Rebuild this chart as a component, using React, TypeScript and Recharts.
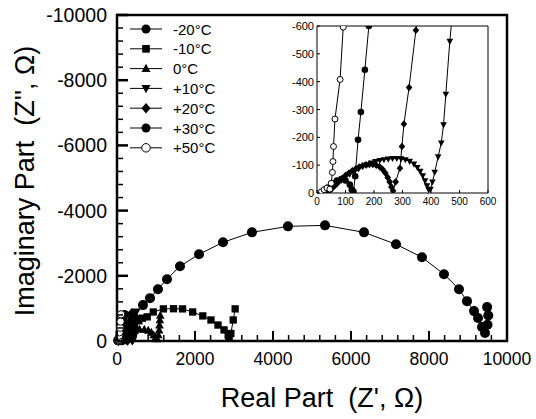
import { ScatterChart, Scatter, XAxis, YAxis, ReferenceArea, Legend } from 'recharts'

// series names and marker kinds
const SERIES_NAMES = ['-20°C', '-10°C', '0°C', '+10°C', '+20°C', '+30°C', '+50°C']
const MARKERS = ['circle', 'square', 'triangle', 'triangleDown', 'diamond', 'circle', 'openCircle']

// Z' (real) and Z'' (imaginary) in ohm
const reM20 = [30, 120, 250, 420, 667, 846, 1051, 1282, 1615, 2103, 2718, 3461, 4384, 5333, 6333, 7154, 7820, 8384, 8769, 8974, 9154, 9256, 9359, 9436, 9500, 9520, 9490]
const imM20 = [-20, -170, -430, -740, -1101, -1315, -1590, -1896, -2293, -2660, -3027, -3333, -3517, -3547, -3333, -2966, -2569, -2049, -1590, -1223, -917, -703, -428, -245, -500, -780, -1040]

const reM10 = [150, 250, 350, 450, 560, 650, 775, 930, 1190, 1450, 1680, 1940, 2200, 2410, 2590, 2745, 2850, 2875, 2920, 2980, 3030]
const imM10 = [-60, -200, -350, -490, -620, -700, -740, -890, -985, -990, -985, -890, -770, -645, -490, -340, -185, -90, -230, -645, -985]

const reZero = [100, 200, 320, 450, 580, 700, 800, 880, 940, 985, 1030, 1060, 1080, 1090, 1100, 1110]
const imZero = [-30, -120, -230, -310, -350, -350, -320, -260, -180, -90, -60, -180, -330, -480, -640, -780]

const reP10 = [40, 55, 70, 85, 100, 115, 130, 145, 160, 175, 190, 205, 220, 235, 250, 265, 280, 295, 310, 325, 340, 352, 362, 371, 379, 386, 392, 398, 405, 413, 425, 436, 444, 452, 466, 480, 495]
const imP10 = [-5, -18, -32, -45, -57, -68, -78, -87, -95, -102, -108, -113, -117, -120, -122, -124, -124, -123, -120, -114, -104, -92, -78, -62, -44, -26, -12, -14, -40, -75, -130, -180, -245, -355, -545, -700, -900]

const reP20 = [40, 52, 64, 76, 88, 100, 112, 124, 136, 148, 160, 172, 184, 196, 208, 220, 230, 240, 248, 255, 261, 267, 276, 291, 298, 305, 323, 347, 362, 378]
const imP20 = [-3, -15, -28, -40, -52, -63, -72, -80, -87, -93, -98, -101, -103, -103, -100, -94, -85, -72, -56, -40, -22, -8, -40, -89, -167, -248, -379, -585, -700, -860]

const reP30 = [25, 40, 55, 70, 85, 100, 115, 122, 128, 134, 144, 154, 168, 182, 198]
const imP30 = [-5, -20, -35, -45, -50, -45, -30, -12, -5, -60, -191, -291, -443, -600, -820]

const reP50 = [15, 25, 35, 45, 50, 54, 56, 58, 63, 81, 92, 106]
const imP50 = [-4, -12, -18, -14, -35, -74, -113, -167, -266, -408, -596, -820]

const MAIN_X_LABELS = [0, 2000, 4000, 6000, 8000, 10000]
const MAIN_Y_LABELS = [-10000, -8000, -6000, -4000, -2000, 0]
const INSET_X_LABELS = [0, 100, 200, 300, 400, 500, 600]
const INSET_Y_LABELS = [-600, -500, -400, -300, -200, -100, 0]

const toPoints = (re: number[], im: number[]) => re.map((x, i) => ({ x, y: im[i] }))

const SERIES = [
  toPoints(reM20, imM20),
  toPoints(reM10, imM10),
  toPoints(reZero, imZero),
  toPoints(reP10, imP10),
  toPoints(reP20, imP20),
  toPoints(reP30, imP30),
  toPoints(reP50, imP50)
]
const INSET_SERIES = [3, 4, 5, 6]

// minor ticks: 5 per labelled step
const withMinor = (labels: number[]) => {
  const out: number[] = []
  const step = (labels[1] - labels[0]) / 5
  for (let v = labels[0]; v <= labels[labels.length - 1] + 1e-9; v += step) out.push(Math.round(v))
  return out
}

const FONT = "'Liberation Sans', Arial, sans-serif"
const NBSP = '\u00A0'

const drawMark = (kind: string, cx: number, cy: number, s: number) => {
  switch (kind) {
    case 'square':
      return <rect x={cx - s * 0.85} y={cy - s * 0.85} width={s * 1.7} height={s * 1.7} fill="#000" />
    case 'triangle':
      return <polygon points={`${cx},${cy - s * 1.1} ${cx + s},${cy + s * 0.75} ${cx - s},${cy + s * 0.75}`} fill="#000" />
    case 'triangleDown':
      return <polygon points={`${cx},${cy + s * 1.1} ${cx + s},${cy - s * 0.75} ${cx - s},${cy - s * 0.75}`} fill="#000" />
    case 'diamond':
      return <polygon points={`${cx},${cy - s * 1.15} ${cx + s},${cy} ${cx},${cy + s * 1.15} ${cx - s},${cy}`} fill="#000" />
    case 'openCircle':
      return <circle cx={cx} cy={cy} r={s * 0.85} fill="#fff" stroke="#000" strokeWidth={1} />
    default:
      return <circle cx={cx} cy={cy} r={s} fill="#000" />
  }
}

const makeShape = (kind: string, s: number) => (props: any) => {
  if (props.cx == null || props.cy == null) return <g />
  return drawMark(kind, props.cx, props.cy, s)
}

const MainXTick = (props: any) => {
  const { x, y, payload } = props
  const major = payload.value % 2000 === 0
  return (
    <g>
      <line x1={x} x2={x} y1={y} y2={y - (major ? 10 : 6)} stroke="#000" strokeWidth={major ? 2 : 1.5} />
      {major && (
        <text x={x} y={y + 24} textAnchor="middle" fontSize={17.5} fontFamily={FONT} fill="#000">
          {payload.value}
        </text>
      )}
    </g>
  )
}

const MainYTick = (props: any) => {
  const { x, y, payload } = props
  const major = payload.value % 2000 === 0
  return (
    <g>
      <line x1={x} x2={x + (major ? 11 : 6)} y1={y} y2={y} stroke="#000" strokeWidth={major ? 2.5 : 1.5} />
      {major && (
        <text x={x - 10} y={y + 7} textAnchor="end" fontSize={19.5} fontFamily={FONT} fill="#000">
          {payload.value}
        </text>
      )}
    </g>
  )
}

const InsetXTick = (props: any) => {
  const { x, y, payload } = props
  return (
    <g>
      <line x1={x} x2={x} y1={y} y2={y - 3} stroke="#000" strokeWidth={1} />
      <text x={x} y={y + 12} textAnchor="middle" fontSize={10} fontFamily={FONT} fill="#000">
        {payload.value}
      </text>
    </g>
  )
}

const InsetYTick = (props: any) => {
  const { x, y, payload } = props
  return (
    <g>
      <line x1={x} x2={x + 3} y1={y} y2={y} stroke="#000" strokeWidth={1} />
      <text x={x - 3} y={y + 4} textAnchor="end" fontSize={11} fontFamily={FONT} fill="#000">
        {payload.value}
      </text>
    </g>
  )
}

const LegendBox = () => (
  <svg width={110} height={145}>
    {SERIES_NAMES.map((name, i) => {
      const cy = 10 + i * 19.8
      return (
        <g key={name}>
          <line x1={4} x2={36} y1={cy} y2={cy} stroke="#000" strokeWidth={1} />
          {drawMark(MARKERS[i], 20, cy, MARKERS[i] === 'openCircle' ? 5 : 4.5)}
          <text x={47} y={cy + 5.5} fontSize={15} fontFamily={FONT} fill="#000">
            {name}
          </text>
        </g>
      )
    })}
  </svg>
)

const MainTitleX = (props: any) => {
  const { viewBox } = props
  return (
    <text x={viewBox.x + viewBox.width / 2 + 10} y={viewBox.y + 66} textAnchor="middle" fontSize={27} fontFamily={FONT} fill="#000">
      {`Real Part${NBSP} (Z', Ω)`}
    </text>
  )
}

const MainTitleY = () => (
  <text x={0} y={0} transform="translate(34, 181) rotate(-90)" textAnchor="middle" fontSize={27} fontFamily={FONT} fill="#000">
    {`Imaginary Part${NBSP} (Z'', Ω)`}
  </text>
)

export default function App() {
  return (
    <div style={{ position: 'absolute', left: 0, top: 0, width: 536, height: 419, background: '#fff' }}>
      <ScatterChart width={536} height={419} margin={{ top: 15, right: 29, bottom: 0, left: 0 }}>
        <XAxis
          type="number"
          dataKey="x"
          domain={[0, 10000]}
          ticks={withMinor(MAIN_X_LABELS)}
          interval={0}
          tickSize={0}
          tickMargin={0}
          tickLine={false}
          axisLine={false}
          tick={<MainXTick />}
          height={78}
          label={<MainTitleX />}
        />
        <YAxis
          type="number"
          dataKey="y"
          domain={[-10000, 0]}
          reversed
          ticks={withMinor(MAIN_Y_LABELS)}
          interval={0}
          tickSize={0}
          tickMargin={0}
          tickLine={false}
          axisLine={false}
          tick={<MainYTick />}
          width={117}
          label={<MainTitleY />}
        />
        <ReferenceArea x1={0} x2={10000} y1={-10000} y2={0} fill="none" fillOpacity={0} stroke="#000" strokeWidth={2.5} />
        {SERIES.map((pts, i) => (
          <Scatter
            key={SERIES_NAMES[i]}
            name={SERIES_NAMES[i]}
            data={pts}
            line={{ stroke: '#000', strokeWidth: 1 }}
            lineType="joint"
            shape={makeShape(MARKERS[i], i === 0 ? 5 : 4.3)}
            isAnimationActive={false}
          />
        ))}
        <Legend
          layout="vertical"
          align="center"
          verticalAlign="middle"
          content={<LegendBox />}
          wrapperStyle={{ left: 126, top: 19, width: 110, height: 145 }}
        />
      </ScatterChart>

      <div style={{ position: 'absolute', left: 285, top: 16 }}>
        <ScatterChart width={213} height={193} margin={{ top: 10, right: 10, bottom: 0, left: 0 }}>
          <XAxis
            type="number"
            dataKey="x"
            domain={[0, 600]}
            allowDataOverflow
            ticks={INSET_X_LABELS}
            interval={0}
            tickSize={0}
            tickMargin={0}
            tickLine={false}
            axisLine={false}
            tick={<InsetXTick />}
            height={16}
          />
          <YAxis
            type="number"
            dataKey="y"
            domain={[-600, 0]}
            allowDataOverflow
            reversed
            ticks={INSET_Y_LABELS}
            interval={0}
            tickSize={0}
            tickMargin={0}
            tickLine={false}
            axisLine={false}
            tick={<InsetYTick />}
            width={32}
          />
          <ReferenceArea x1={0} x2={600} y1={-600} y2={0} fill="#fff" fillOpacity={1} stroke="#000" strokeWidth={1} />
          {INSET_SERIES.map((si) => (
            <Scatter
              key={SERIES_NAMES[si]}
              name={SERIES_NAMES[si]}
              data={SERIES[si]}
              line={{ stroke: '#000', strokeWidth: 1 }}
              lineType="joint"
              shape={makeShape(MARKERS[si], MARKERS[si] === 'openCircle' ? 3.5 : 3.3)}
              isAnimationActive={false}
            />
          ))}
        </ScatterChart>
      </div>
    </div>
  )
}
